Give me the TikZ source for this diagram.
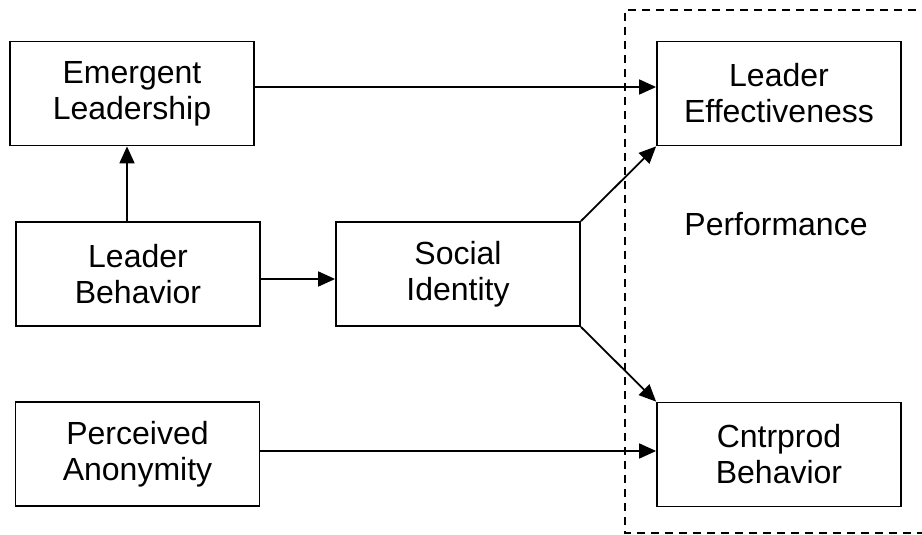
\documentclass[tikz,border=0pt]{standalone}
\usepackage{fontspec}
\setmainfont{Liberation Sans}
\usetikzlibrary{arrows.meta}
\begin{document}
\begin{tikzpicture}[x=1pt,y=-1pt,
  box/.style={draw,line width=1.8pt,minimum width=244pt,minimum height=104pt,align=center,inner sep=0pt,font=\fontsize{32}{36}\selectfont},
  arr/.style={line width=1.8pt,-{Triangle[length=17pt,width=15pt]}},
  dashbox/.style={line width=1.5pt,dash pattern=on 8pt off 6pt}]
\useasboundingbox (0,0) rectangle (922,535);
\draw[dashbox] (930,10) -- (625,10) -- (625,533) -- (930,533);
\node[box] (em) at (132,93.5) {Emergent\\Leadership};
\node[box] (le) at (779,93.5) {Leader\\Effectiveness};
\node[box] (lb) at (138,274) {Leader\\Behavior};
\node[box] (si) at (458,274) {Social\\Identity};
\node[box] (pa) at (137.5,454) {Perceived\\Anonymity};
\node[box] (cb) at (779,454.5) {Cntrprod\\Behavior};
\node[font=\fontsize{32}{36}\selectfont] (perf) at (776,224) {Performance};
\coordinate (ya) at (0,87);
\coordinate (yb) at (0,279);
\coordinate (yc) at (0,451);
\coordinate (xv) at (127,0);
\draw[arr] (em.east |- ya) -- (le.west |- ya);
\draw[arr] (lb.north -| xv) -- (em.south -| xv);
\draw[arr] (lb.east |- yb) -- (si.west |- yb);
\draw[arr] (si.north east) -- (le.south west);
\draw[arr] (si.south east) -- (cb.north west);
\draw[arr] (pa.east |- yc) -- (cb.west |- yc);
\end{tikzpicture}
\end{document}
